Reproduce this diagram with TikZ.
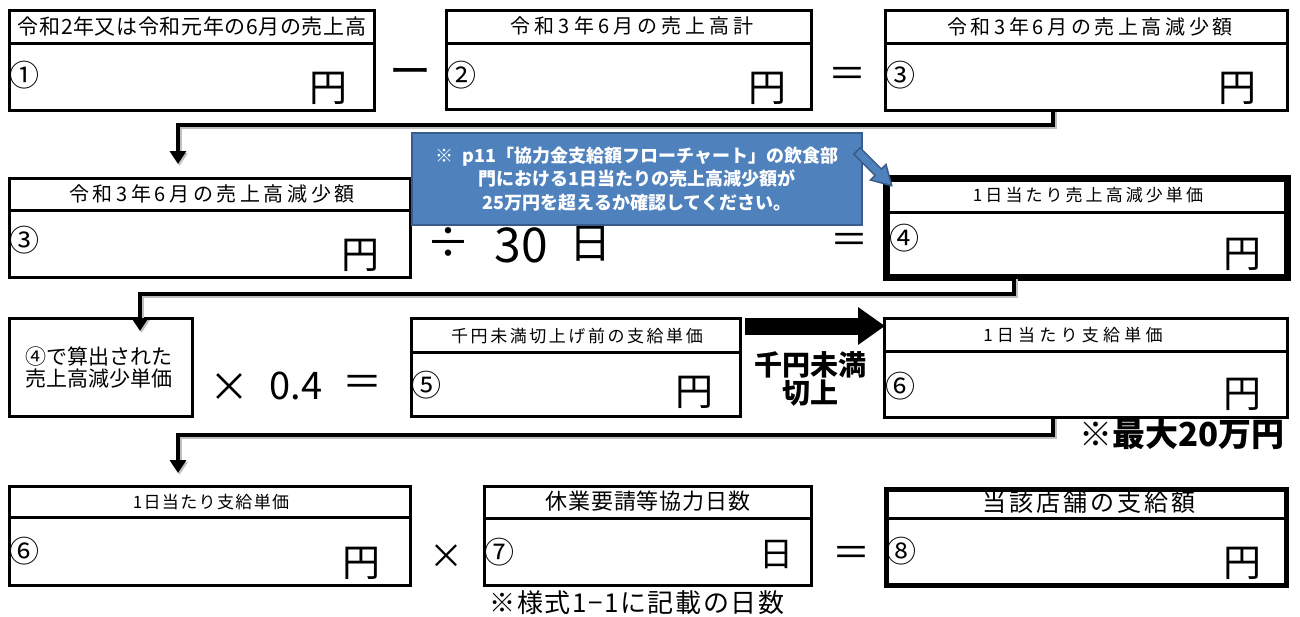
\documentclass[tikz,border=0pt]{standalone}
\usepackage{fontspec}
\setmainfont{Noto Sans CJK JP}
\usetikzlibrary{arrows.meta}
\definecolor{cofill}{RGB}{79,129,189}
\definecolor{coline}{RGB}{56,93,138}
\newcommand\fsz[1]{\fontsize{#1pt}{#1pt}\selectfont}
\newcommand\hdf[2]{\fsz{#1}\addfontfeatures{LetterSpace=#2}}
\begin{document}
\begin{tikzpicture}[x=1pt,y=-1pt,
  box/.style={draw, line width=3pt, anchor=north west, inner sep=0pt, outer sep=0pt},
  divl/.style={line width=3pt},
  hdr/.style={inner sep=0pt},
  circ/.style={anchor=west, inner sep=0pt, font=\fsz{30}},
  yen/.style={inner sep=0pt, font=\fsz{38}},
  op/.style={inner sep=0pt},
  conn/.style={line width=4pt, line join=miter, -{Triangle[width=16pt,length=13pt]},
    preaction={draw=black!25, line width=4pt, transform canvas={xshift=1.5pt, yshift=-2pt}}},
  callout/.style={fill=cofill, draw=coline, line width=2pt, minimum width=450pt, minimum height=92pt,
    inner sep=0pt, align=center, text=white, font=\bfseries\fontsize{18pt}{23.5pt}\selectfont},
]
\fill[white] (0,0) rectangle (1300,616);
\useasboundingbox (0,0) rectangle (1300,616);

% ---------- Row 1 ----------
\node[box, minimum width=365pt, minimum height=100pt] (b1) at (9,10) {};
\draw[divl] (b1.west |- 0,43) -- (b1.east |- 0,43);
\node[hdr, font=\hdf{21}{3}] (h1) at (192,27) {令和2年又は令和元年の6月の売上高};
\node[circ] (n1) at (9,75) {①};
\node[yen] (y1) at (328,88) {円};

\node[op, font=\fsz{42}] (o1) at (410,77) {ー};

\node[box, minimum width=365pt, minimum height=99pt] (b2) at (446,10) {};
\draw[divl] (b2.west |- 0,43) -- (b2.east |- 0,43);
\node[hdr, font=\hdf{20}{20}] (h2) at (632,26) {令和3年6月の売上高計};
\node[circ] (n2) at (446,75) {②};
\node[yen] (y2) at (767,88) {円};

\node[op, font=\fsz{38}] (o2) at (847,77) {＝};

\node[box, minimum width=402pt, minimum height=100pt] (b3) at (885,10) {};
\draw[divl] (b3.west |- 0,43) -- (b3.east |- 0,43);
\node[hdr, font=\hdf{20}{18}] (h3) at (1090,27) {令和3年6月の売上高減少額};
\node[circ] (n3) at (885,75) {③};
\node[yen] (y3) at (1237,88) {円};

% ---------- Row 2 ----------
\node[box, minimum width=401pt, minimum height=99pt] (b3b) at (9,178) {};
\draw[divl] (b3b.west |- 0,210) -- (b3b.east |- 0,210);
\node[hdr, font=\hdf{20}{18}] (h3b) at (212,194) {令和3年6月の売上高減少額};
\node[circ] (n3b) at (9,240) {③};
\node[yen] (y3b) at (360,255) {円};

\node[op, font=\fsz{44}] (o3) at (448,243) {÷};
\node[op, font=\fsz{48}] (o4) at (521,245) {30};
\node[op, font=\fsz{42}] (o5) at (590,244) {日};
\node[op, font=\fsz{38}] (o6) at (849,243) {＝};

\node[box, line width=7pt, minimum width=401pt, minimum height=99pt] (b4) at (886,178) {};
\draw[divl] (b4.west |- 0,212) -- (b4.east |- 0,212);
\node[hdr, font=\hdf{17}{18}] (h4) at (1088,195) {1日当たり売上高減少単価};
\node[circ] (n4) at (889,238) {④};
\node[yen] (y4) at (1242,254) {円};

% ---------- Row 3 ----------
\node[box, minimum width=183pt, minimum height=98pt] (bA) at (9,318) {};
\node[font=\fontsize{21pt}{22pt}\selectfont, align=center, inner sep=0pt] (tA) at (99,367) {④で算出された\\売上高減少単価};

\node[op, font=\fsz{40}] (o7) at (229,388) {×};
\node[op, font=\fsz{38}] (o8) at (296,386) {0.4};
\node[op, font=\fsz{40}] (o9) at (362,386) {＝};

\node[box, minimum width=329pt, minimum height=98pt] (b5) at (411,318) {};
\draw[divl] (b5.west |- 0,352) -- (b5.east |- 0,352);
\node[hdr, font=\hdf{17}{15}] (h5) at (577,336) {千円未満切上げ前の支給単価};
\node[circ] (n5) at (411,385) {⑤};
\node[yen] (y5) at (694,392) {円};

\coordinate (ba1) at (745,326);
\coordinate (ba2) at (885,326);
\draw[line width=17pt, -{Triangle[width=36pt,length=27pt]}] (ba1) -- (ba2);
\node[font=\bfseries\fontsize{28pt}{28pt}\selectfont, align=center, inner sep=0pt] (kr) at (810,379) {千円未満\\切上};

\node[box, minimum width=403pt, minimum height=99pt] (b6) at (884,318) {};
\draw[divl] (b6.west |- 0,351) -- (b6.east |- 0,351);
\node[hdr, font=\hdf{17}{25}] (h6) at (1073,335) {1日当たり支給単価};
\node[circ] (n6) at (885,386) {⑥};
\node[yen] (y6) at (1242,394) {円};
\node[anchor=east, inner sep=0pt, font=\bfseries\fsz{33}] (mx) at (1285,434) {※最大20万円};

% ---------- Row 4 ----------
\node[box, minimum width=401pt, minimum height=99pt] (b6b) at (9,486) {};
\draw[divl] (b6b.west |- 0,517) -- (b6b.east |- 0,517);
\node[hdr, font=\hdf{17}{8}] (h6b) at (211,502) {1日当たり支給単価};
\node[circ] (n6b) at (9,551) {⑥};
\node[yen] (y6b) at (361,563) {円};

\node[op, font=\fsz{34}] (o10) at (446,557) {×};

\node[box, minimum width=327pt, minimum height=99pt] (b7) at (484,486) {};
\draw[divl] (b7.west |- 0,518) -- (b7.east |- 0,518);
\node[hdr, font=\hdf{22}{4}] (h7) at (648,501) {休業要請等協力日数};
\node[circ] (n7) at (484,552) {⑦};
\node[yen, font=\fsz{34}] (y7) at (776,555) {日};
\node[inner sep=0pt, font=\hdf{26}{6}] (nt) at (637,603) {※様式1−1に記載の日数};

\node[op, font=\fsz{38}] (o11) at (851,556) {＝};

\node[box, line width=5pt, minimum width=400pt, minimum height=96pt] (b8) at (886,489) {};
\draw[divl] (b8.west |- 0,518) -- (b8.east |- 0,518);
\node[hdr, font=\hdf{24}{12}] (h8) at (1089,502) {当該店舗の支給額};
\node[circ] (n8) at (886,551) {⑧};
\node[yen] (y8) at (1242,563) {円};

% ---------- Connectors ----------
\coordinate (k1a) at (1053,125);
\coordinate (k1b) at (178,125);
\draw[conn, shorten >=14pt] (b3.south -| k1a) -- (k1a) -- (k1b) -- (b3b.north -| k1b);

\coordinate (k2a) at (1014,294);
\coordinate (k2b) at (140,294);
\draw[conn, shorten >=-13pt] (b4.south -| k2a) -- (k2a) -- (k2b) -- (bA.north -| k2b);

\coordinate (k3a) at (1053,435);
\coordinate (k3b) at (178,435);
\draw[conn, shorten >=13pt] (b6.south -| k3a) -- (k3a) -- (k3b) -- (b6b.north -| k3b);

% ---------- Callout ----------
\node[callout] (co) at (637,179) {※\enspace p11「協力金支給額フローチャート」の飲食部\\門における1日当たりの売上高減少額が\\25万円を超えるか確認してください。};
\begin{scope}[shift={(857,151)}, rotate=-45]
  \filldraw[fill=cofill, draw=coline, line width=1.5pt, line join=miter]
    (0,4.5) -- (30,4.5) -- (30,11) -- (49,0) -- (30,-11) -- (30,-4.5) -- (0,-4.5) -- cycle;
\end{scope}
\end{tikzpicture}
\end{document}
